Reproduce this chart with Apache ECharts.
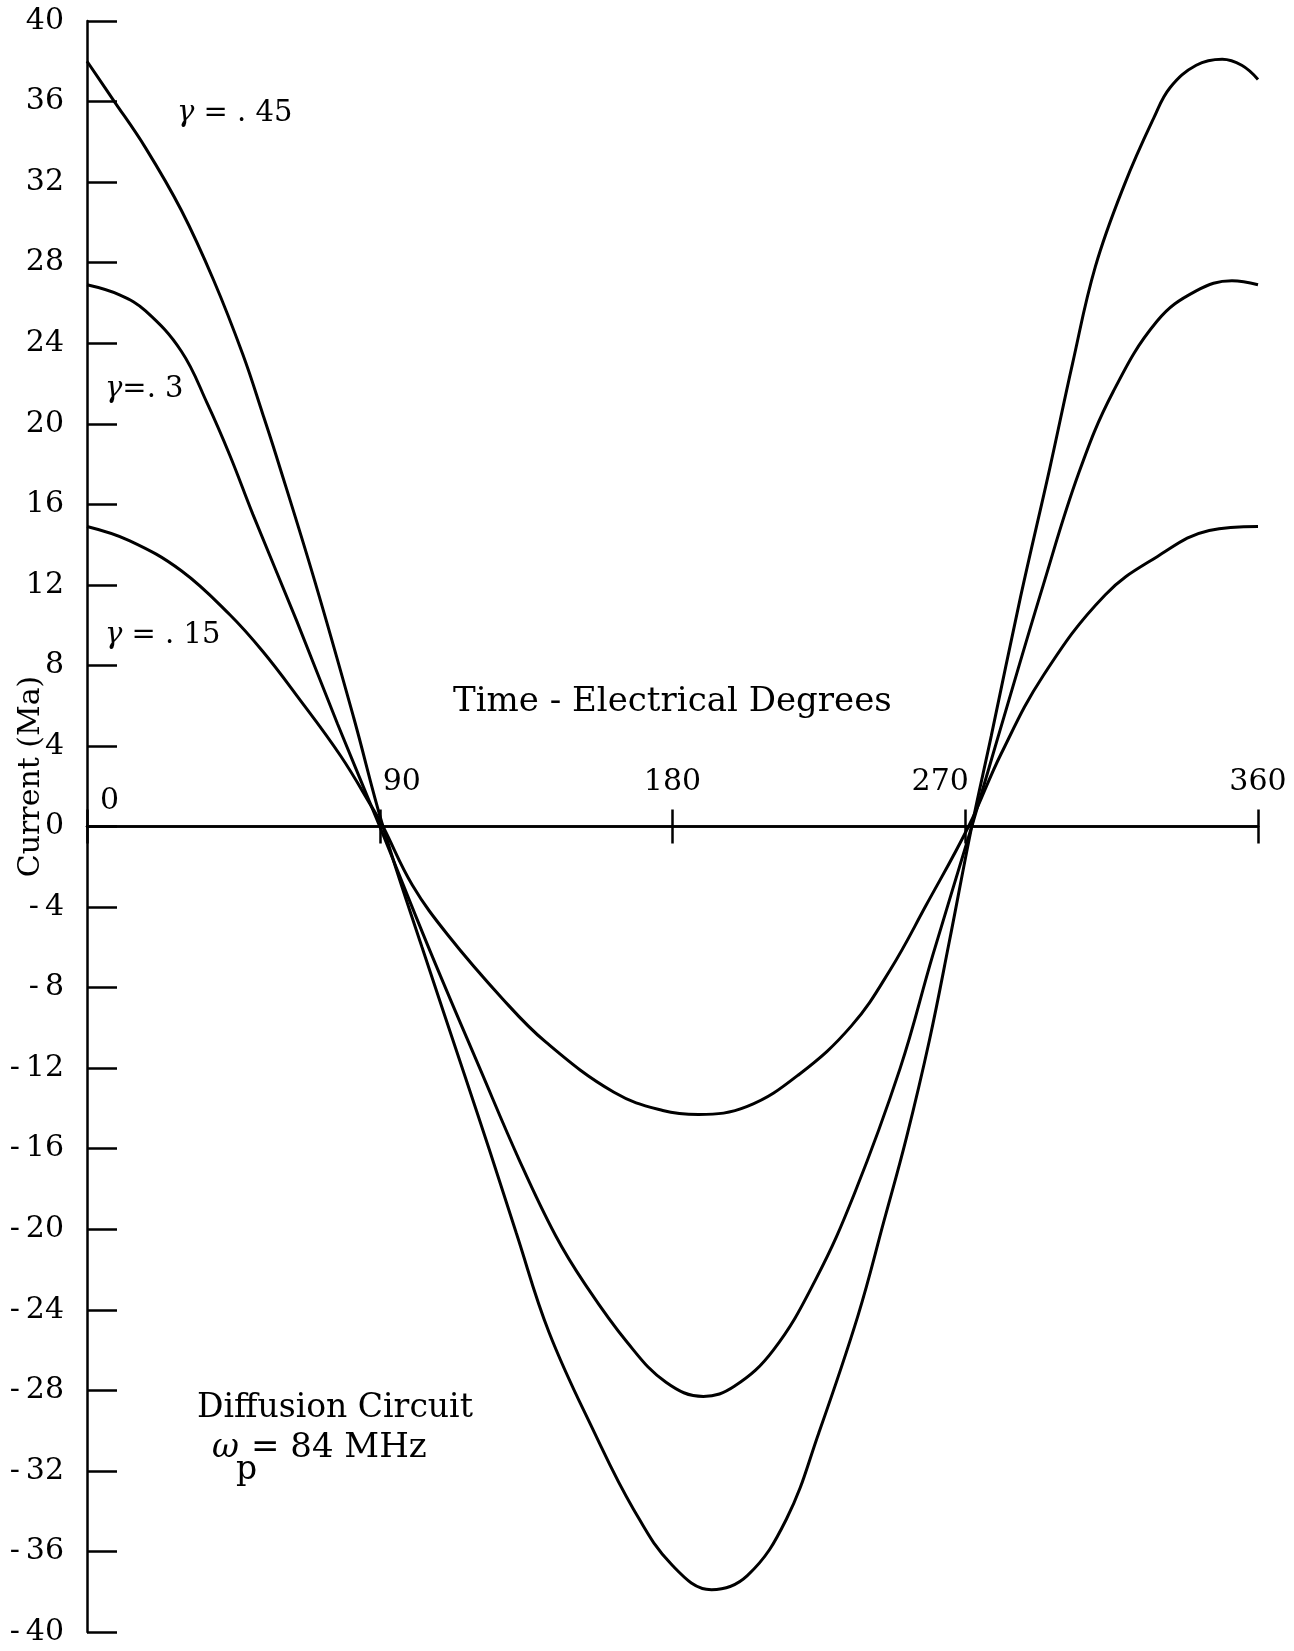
<!DOCTYPE html>
<html>
<head>
<meta charset="utf-8">
<title>Diffusion Circuit current</title>
<script src="https://cdn.jsdelivr.net/npm/echarts@6/dist/echarts.min.js"></script>
<style>
  html, body { margin: 0; padding: 0; background: #fff; }
  #chart { width: 1294px; height: 1651px; }
</style>
</head>
<body>
<div id="chart"></div>
<script>
// values: electrical degrees vs current (Ma)
const deg45 = [0, 8, 18, 29, 39, 48, 54, 58, 70, 82, 91, 103, 116, 124, 132, 142, 156, 168, 180, 192, 203, 215, 225, 237, 245, 252, 259, 265, 272, 278, 287, 296, 303, 310, 319, 328, 333, 341, 349, 355, 360];
const cur45 = [38.0, 36.1, 33.7, 30.6, 27.1, 23.4, 20.5, 18.5, 12.2, 5.4, 0, -6.0, -12.3, -16.2, -20.2, -25.1, -30.1, -33.9, -36.7, -37.9, -37.2, -34.4, -30.1, -24.3, -19.6, -15.4, -10.6, -5.8, 0, 4.5, 11.4, 17.8, 23.0, 27.8, 31.9, 35.2, 36.7, 37.8, 38.1, 37.8, 37.1];

const deg30 = [0, 10, 18, 29, 37, 44, 51, 64.5, 77, 90, 105, 121, 133, 144, 153, 166, 178, 189.5, 199, 211, 224, 236, 250, 260, 272, 280, 294, 305, 315.5, 329, 341, 352, 360];
const cur30 = [26.9, 26.4, 25.6, 23.6, 21.0, 18.4, 15.5, 10.2, 5.1, 0, -6.0, -12.1, -16.6, -20.3, -22.7, -25.6, -27.6, -28.3, -27.8, -26.0, -22.5, -18.2, -12.0, -6.4, 0, 4.4, 12.0, 17.6, 21.6, 25.1, 26.6, 27.1, 26.9];

const deg15 = [0, 13, 29, 44, 54, 64.5, 78, 88, 91, 100, 111, 128, 141, 162, 177, 188, 203, 219, 235, 247, 258, 271, 281, 294, 313, 329, 345, 360];
const cur15 = [14.9, 14.2, 12.7, 10.5, 8.7, 6.5, 3.5, 0.85, 0, -2.9, -5.4, -8.6, -10.7, -13.2, -14.1, -14.3, -13.9, -12.3, -9.9, -7.1, -3.9, 0, 3.6, 7.5, 11.5, 13.4, 14.7, 14.9];

const FONT = '"DejaVu Serif", "Liberation Serif", serif';
const INK = '#000';

function pairs(xs, ys) {
  return xs.map((x, i) => [x, ys[i]]);
}

function curve(name, xs, ys) {
  return {
    name: name,
    type: 'line',
    data: pairs(xs, ys),
    smooth: 0.4,
    symbol: 'none',
    lineStyle: { color: INK, width: 3 },
    z: 3,
  };
}

// free text on the plot; {i|..} parts are set in italic like the math letters
function note(text, x, y, size) {
  return {
    type: 'text',
    x: x,
    y: y,
    style: {
      text: text,
      font: size + 'px ' + FONT,
      fill: INK,
      textAlign: 'left',
      textVerticalAlign: 'middle',
      align: 'left',
      verticalAlign: 'middle',
      rich: {
        i: { fontFamily: FONT, fontSize: size, fontStyle: 'italic', fill: INK },
      },
    },
  };
}

const chart = echarts.init(document.getElementById('chart'));

const axisLineStyle = { color: INK, width: 2.5 };
const labelBase = { color: INK, fontFamily: FONT, fontSize: 30 };
// grid is 1611px tall, the x axis sits on y = 0, i.e. half way
const ZERO_SHIFT = -805.5;

chart.setOption({
  animation: false,
  backgroundColor: '#fff',
  grid: { left: 87, right: 36, top: 21, bottom: 19, outerBoundsMode: 'none', containLabel: false },
  xAxis: [
    {
      // lower half of the crossing ticks + the "0" label
      type: 'value',
      min: 0,
      max: 360,
      interval: 90,
      position: 'bottom',
      offset: ZERO_SHIFT,
      axisLine: { onZero: false, lineStyle: axisLineStyle },
      axisTick: { inside: false, length: 17, lineStyle: axisLineStyle },
      axisLabel: Object.assign({}, labelBase, {
        inside: true,
        margin: 10,
        align: 'left',
        padding: [0, 0, 0, 13],
        formatter: (v) => (v === 0 ? '0' : ''),
      }),
      splitLine: { show: false },
    },
    {
      // upper half of the ticks + 90 / 180 / 270 / 360
      type: 'value',
      min: 0,
      max: 360,
      interval: 90,
      position: 'top',
      offset: ZERO_SHIFT,
      axisLine: { onZero: false, lineStyle: axisLineStyle },
      axisTick: { inside: false, length: 17, lineStyle: axisLineStyle },
      axisLabel: Object.assign({}, labelBase, {
        margin: 29,
        showMinLabel: true,
        showMaxLabel: true,
        // "90" sits right of its tick, "270" left of it, as in the original
        formatter: (v) => {
          if (v === 0) return '';
          if (v === 90) return '{r|90}';
          if (v === 270) return '{l|270}';
          return String(v);
        },
        rich: {
          r: { color: INK, fontFamily: FONT, fontSize: 30, padding: [0, 0, 0, 44] },
          l: { color: INK, fontFamily: FONT, fontSize: 30, padding: [0, 50, 0, 0] },
        },
      }),
      splitLine: { show: false },
    },
  ],
  yAxis: {
    type: 'value',
    min: -40,
    max: 40,
    interval: 4,
    axisLine: { show: true, onZero: false, lineStyle: axisLineStyle },
    axisTick: { show: true, inside: true, length: 30, lineStyle: axisLineStyle },
    axisLabel: Object.assign({}, labelBase, {
      margin: 23,
      formatter: (v) => (v < 0 ? '-\u2009' + Math.abs(v) : String(v)),
    }),
    splitLine: { show: false },
    name: 'Current (Ma)',
    nameLocation: 'middle',
    nameGap: 41,
    nameMoveOverlap: false,
    nameTextStyle: {
      color: INK,
      fontFamily: FONT,
      fontSize: 30,
      padding: [0, 0, 0, 100],
    },
  },
  series: [
    curve('γ = .45', deg45, cur45),
    curve('γ = .3', deg30, cur30),
    curve('γ = .15', deg15, cur15),
  ],
  graphic: [
    note('{i|γ} = . 45', 177, 113, 29),
    note('{i|γ}=. 3', 105, 389, 29),
    note('{i|γ} = . 15', 105, 635, 29),
    note('Time - Electrical Degrees', 453, 702, 34),
    note('Diffusion Circuit', 197, 1408, 33),
    note('{i|ω}', 212, 1448, 33),
    note('p', 236, 1470, 33),
    note('= 84 MHz', 251, 1448, 34),
  ],
});

window.addEventListener('resize', () => chart.resize());
</script>
</body>
</html>
